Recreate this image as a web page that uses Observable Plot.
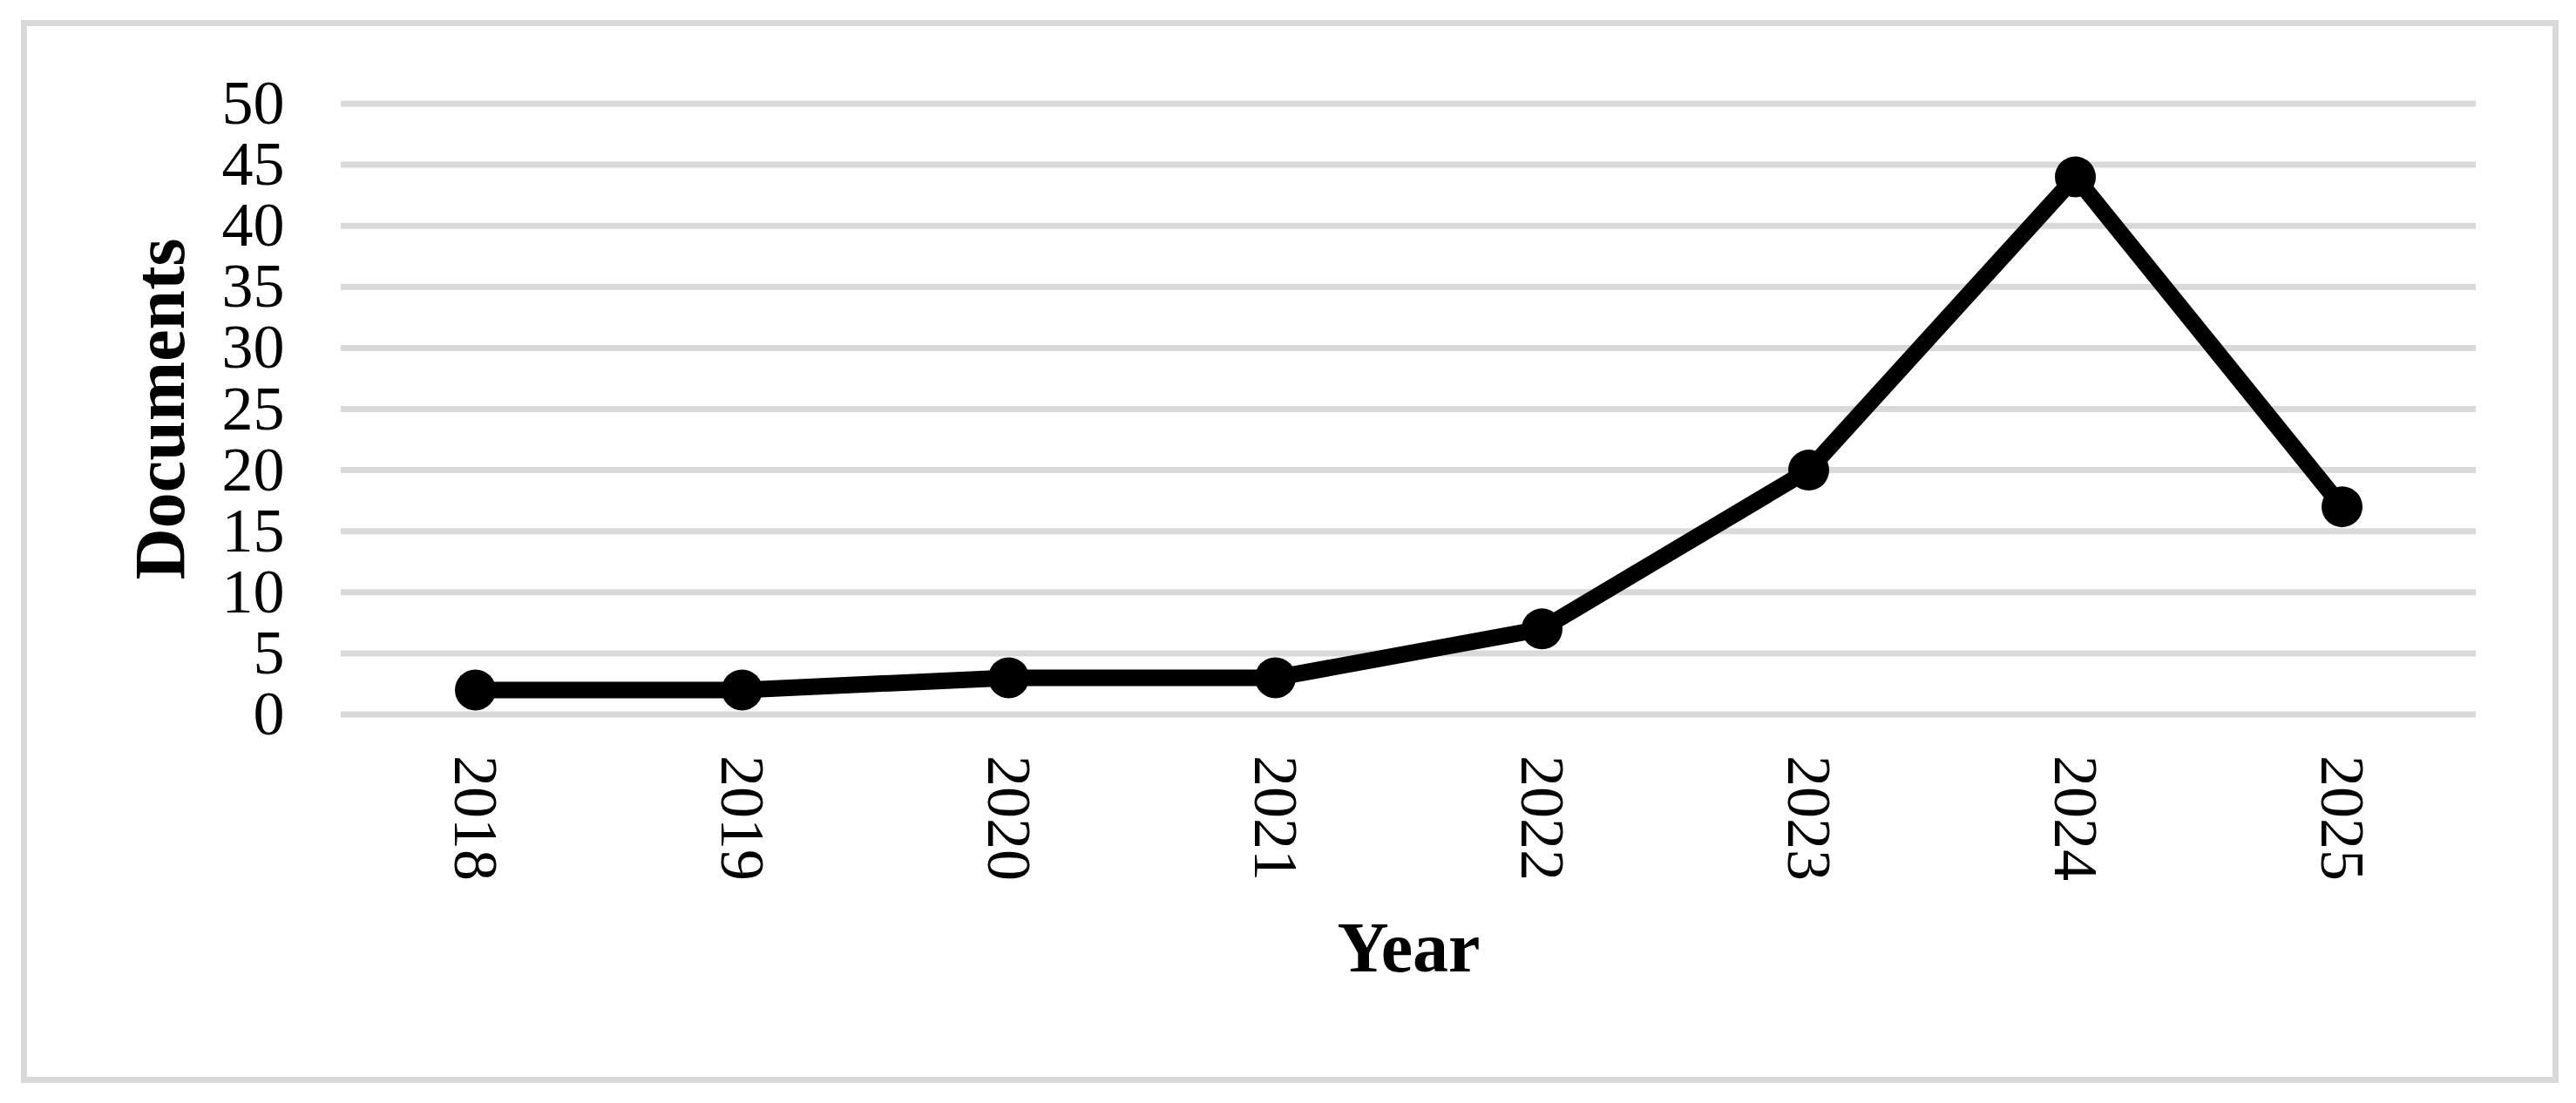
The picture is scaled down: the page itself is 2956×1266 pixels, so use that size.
<!DOCTYPE html>
<html>
<head>
<meta charset="utf-8">
<script src="https://cdn.jsdelivr.net/npm/d3@7"></script>
<script src="https://cdn.jsdelivr.net/npm/@observablehq/plot@0.6"></script>
<style>
html, body { margin: 0; padding: 0; background: #ffffff; }
#wrap { position: relative; width: 2956px; height: 1266px; overflow: hidden; }
#frame { position: absolute; left: 24px; top: 23px; width: 2912px; height: 1220px; border: 7px solid #d9d9d9; box-sizing: border-box; pointer-events: none; }
</style>
</head>
<body>
<div id="wrap"><div id="chart"></div><div id="frame"></div></div>
<script>
const years = ["2018", "2019", "2020", "2021", "2022", "2023", "2024", "2025"];
const documents = [2, 2, 3, 3, 7, 20, 44, 17];
const yTicks = [0, 5, 10, 15, 20, 25, 30, 35, 40, 45, 50];
const xTitle = "Year";
const yTitle = "Documents";

const data = years.map((year, i) => ({year, docs: documents[i]}));

const chart = Plot.plot({
  width: 2956,
  height: 1266,
  marginLeft: 391,
  marginRight: 115,
  marginTop: 118.5,
  marginBottom: 446.5,
  style: {
    fontFamily: "'Liberation Serif', 'Times New Roman', serif",
    background: "transparent",
    color: "#000000",
    maxWidth: "none",
    overflow: "visible"
  },
  x: {type: "point", domain: years, padding: 0.5},
  y: {domain: [0, 50]},
  marks: [
    Plot.gridY(yTicks, {stroke: "#d9d9d9", strokeWidth: 7, strokeOpacity: 1}),
    Plot.axisY(yTicks, {tickSize: 0, tickPadding: 65, fontSize: 72, label: null}),
    Plot.axisX(years, {tickSize: 0, tickPadding: 47, fontSize: 72, tickRotate: 90, textAnchor: "start", lineAnchor: "middle", label: null}),
    Plot.line(data, {x: "year", y: "docs", stroke: "#000000", strokeWidth: 19, strokeLinejoin: "round"}),
    Plot.dot(data, {x: "year", y: "docs", r: 23.5, fill: "#000000", stroke: "none"}),
    Plot.text([xTitle], {frameAnchor: "bottom", text: d => d, dy: 269, fontSize: 82, fontWeight: "bold", textAnchor: "middle", lineAnchor: "middle"}),
    Plot.text([yTitle], {frameAnchor: "left", text: d => d, rotate: -90, dx: -207, fontSize: 82, fontWeight: "bold", textAnchor: "middle", lineAnchor: "middle"})
  ]
});
document.getElementById("chart").appendChild(chart);
</script>
</body>
</html>
